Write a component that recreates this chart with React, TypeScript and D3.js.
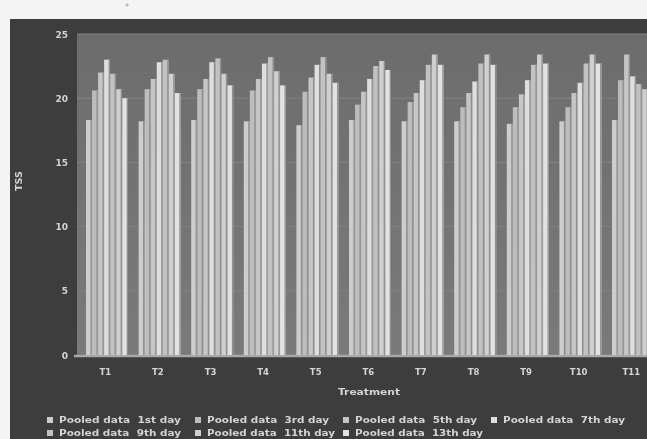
import React from "react";
import * as d3 from "d3";

const categories = ["T1", "T2", "T3", "T4", "T5", "T6", "T7", "T8", "T9", "T10", "T11"];
const seriesNames = [
  "Pooled data  1st day",
  "Pooled data  3rd day",
  "Pooled data  5th day",
  "Pooled data  7th day",
  "Pooled data  9th day",
  "Pooled data  11th day",
  "Pooled data  13th day",
];
const day1 = [18.3, 18.2, 18.3, 18.2, 17.9, 18.3, 18.2, 18.2, 18.0, 18.2, 18.3];
const day3 = [20.6, 20.7, 20.7, 20.6, 20.5, 19.5, 19.7, 19.3, 19.3, 19.3, 21.4];
const day5 = [22.0, 21.5, 21.5, 21.5, 21.6, 20.5, 20.4, 20.4, 20.3, 20.4, 23.4];
const day7 = [23.0, 22.8, 22.8, 22.7, 22.6, 21.5, 21.4, 21.3, 21.4, 21.2, 21.7];
const day9 = [21.9, 23.0, 23.1, 23.2, 23.2, 22.5, 22.6, 22.7, 22.6, 22.7, 21.1];
const day11 = [20.7, 21.9, 21.9, 22.1, 21.9, 22.9, 23.4, 23.4, 23.4, 23.4, 20.7];
const day13 = [20.0, 20.4, 21.0, 21.0, 21.2, 22.2, 22.6, 22.6, 22.7, 22.7, 19.9];
const seriesValues = [day1, day3, day5, day7, day9, day11, day13];
const yTicks = [0, 5, 10, 15, 20, 25];
const seriesColors = ["#cdcdcd", "#bdbdbd", "#c6c6c6", "#dedede", "#c2c2c2", "#cfcfcf", "#e2e2e2"];

export default function App() {
  const W = 647;
  const H = 439;
  const left = 80;
  const step = 52.6;
  const x0 = d3.scaleBand<string>().domain(categories).range([left, left + step * categories.length]).padding(0);
  const x1 = d3.scaleBand<string>().domain(seriesNames).range([6, 48]).paddingInner(0.05);
  const y = d3.scaleLinear().domain([0, 25]).range([355, 34]);
  const font = "'DejaVu Sans', Verdana, sans-serif";
  const txt = "#d4d4d4";
  const legendX = [50, 198, 346, 494];
  const legendY = [420, 433];

  return (
    <svg width={W} height={H} style={{ position: "absolute", left: 0, top: 0 }} fontFamily={font}>
      <defs>
        <filter id="soft" x="0" y="0" width="1" height="1">
          <feGaussianBlur stdDeviation="0.5" />
        </filter>
        <linearGradient id="wall" x1="0" y1="0" x2="0" y2="1">
          <stop offset="0" stopColor="#6c6c6c" />
          <stop offset="1" stopColor="#7a7a7a" />
        </linearGradient>
      </defs>
      <rect x={0} y={0} width={W} height={H} fill="#f4f4f4" />
      <g filter="url(#soft)">
        <rect x={10} y={19} width={W} height={H} fill="#3c3c3c" />
        <rect x={77} y={y(25)} width={W} height={y(0) - y(25)} fill="url(#wall)" />
        {yTicks.slice(1).map((t) => (
          <line key={"g" + t} x1={77} x2={W} y1={y(t)} y2={y(t)} stroke="#838383" strokeWidth={1} />
        ))}
        <line x1={74} x2={W} y1={y(0) + 1} y2={y(0) + 1} stroke="#a9a9a9" strokeWidth={2.5} />
        {yTicks.map((t) => (
          <text key={"t" + t} x={68} y={y(t) + 3.5} textAnchor="end" fontSize={9} fontWeight="bold" fill={txt}>
            {t}
          </text>
        ))}
        {categories.map((c, ci) => (
          <g key={c} transform={`translate(${x0(c)},0)`}>
            {seriesNames.map((s, si) => {
              const v = seriesValues[si][ci];
              const bx = x1(s)!;
              const bw = x1.bandwidth();
              return (
                <g key={s}>
                  <rect x={bx} y={y(v)} width={bw} height={y(0) - y(v)} fill={seriesColors[si]} />
                  <rect x={bx + bw - 1.3} y={y(v)} width={1.3} height={y(0) - y(v)} fill="#8f8f8f" />
                </g>
              );
            })}
            <text x={x0.bandwidth() / 2 - 1} y={375} textAnchor="middle" fontSize={8.5} fontWeight="bold" fill={txt}>
              {c}
            </text>
          </g>
        ))}
        <text x={369} y={395} textAnchor="middle" fontSize={8.5} fontWeight="bold" fill={txt} textLength={62} lengthAdjust="spacingAndGlyphs">
          Treatment
        </text>
        <text transform="translate(22,181) rotate(-90)" textAnchor="middle" fontSize={9.5} fontWeight="bold" fill={txt}>
          TSS
        </text>
        {seriesNames.map((s, i) => {
          const lx = legendX[i % 4];
          const ly = legendY[Math.floor(i / 4)];
          const len = i === 5 || i === 6 ? 128 : 122;
          return (
            <g key={"l" + s}>
              <rect x={lx - 3} y={ly - 3} width={6} height={6} fill={seriesColors[i]} />
              <text x={lx + 9} y={ly + 3} fontSize={8.5} fontWeight="bold" fill={txt} style={{ whiteSpace: "pre" }} textLength={len} lengthAdjust="spacingAndGlyphs">
                {s}
              </text>
            </g>
          );
        })}
      </g>
      <text x={125} y={10} fontSize={8} fill="#9a9a9a">*</text>
    </svg>
  );
}
